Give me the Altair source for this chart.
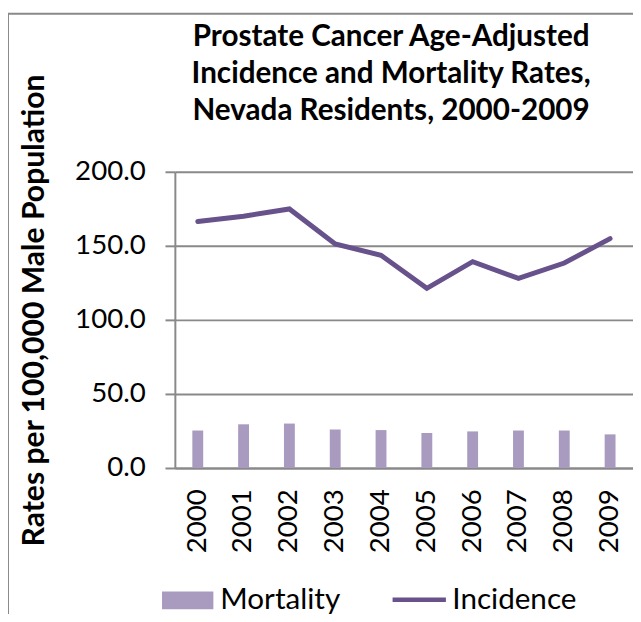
import altair as alt
import pandas as pd

years = ["2000", "2001", "2002", "2003", "2004", "2005", "2006", "2007", "2008", "2009"]
mortality = [25.3, 29.5, 30.0, 26.0, 25.6, 23.6, 24.7, 25.3, 25.3, 22.7]
incidence = [166.4, 170.0, 174.9, 151.3, 143.6, 121.3, 139.3, 128.0, 138.4, 154.9]
y_ticks = [0, 50, 100, 150, 200]

df = pd.DataFrame({
    "Year": years,
    "Mortality": mortality,
    "Incidence": incidence,
    "MLabel": ["Mortality"] * len(years),
    "ILabel": ["Incidence"] * len(years),
})

FONT = "Lato"
BAR_COLOR = "#A99BBF"
LINE_COLOR = "#67528C"
GRID = "#898989"

x_enc = alt.X(
    "Year:O",
    sort=years,
    scale=alt.Scale(paddingInner=0, paddingOuter=0),
    axis=alt.Axis(
        title=None, labelAngle=-90, labelFontSize=28, labelFont=FONT, labelColor="#000",
        labelPadding=21, ticks=False, domain=True, domainColor=GRID, domainWidth=2, grid=False,
        labelAlign="right", labelBaseline="middle",
    ),
)

y_axis = alt.Axis(
    values=y_ticks, format=".1f", labelFontSize=28, labelFont=FONT, labelColor="#000",
    tickSize=10, tickColor=GRID, tickWidth=2, labelPadding=20,
    domainColor=GRID, domainWidth=2, gridColor=GRID, gridWidth=2,
    title="Rates per 100,000 Male Population", titleFont=FONT, titleFontSize=30.5,
    titleFontWeight="bold", titleColor="#000", titleAngle=-90, titleBaseline="middle",
    titleAlign="center", titleX=-142, titleY=140,
)

bars = alt.Chart(df).mark_bar(size=11, color=BAR_COLOR).encode(
    x=x_enc,
    y=alt.Y("Mortality:Q", scale=alt.Scale(domain=[0, 200], nice=False), axis=y_axis),
    fill=alt.Fill(
        "MLabel:N", scale=alt.Scale(domain=["Mortality"], range=[BAR_COLOR]),
        legend=alt.Legend(
            title=None, orient="none", legendX=-13, legendY=408,
            symbolType="M-1,-0.346H1V0.346H-1Z", symbolSize=2704, symbolStrokeWidth=0,
            labelFontSize=30, labelFont=FONT, labelColor="#000", labelOffset=7, padding=0,
        ),
    ),
)

line = alt.Chart(df).mark_line(strokeWidth=5, color=LINE_COLOR, strokeCap="round", strokeJoin="miter").encode(
    x=x_enc,
    y=alt.Y("Incidence:Q"),
    stroke=alt.Stroke(
        "ILabel:N", scale=alt.Scale(domain=["Incidence"], range=[LINE_COLOR]),
        legend=alt.Legend(
            title=None, orient="none", legendX=218, legendY=404,
            symbolType="stroke", symbolSize=2916, symbolStrokeWidth=4.5,
            labelFontSize=30, labelFont=FONT, labelColor="#000", labelOffset=4, padding=0,
        ),
    ),
)

frame = alt.Chart(df).mark_rect(fill=None, stroke=GRID, strokeWidth=2).encode(
    x=alt.value(-169), x2=alt.value(474), y=alt.value(-160), y2=alt.value(462)
).transform_filter(alt.datum.Year == "2000")

chart = alt.layer(frame, bars, line).properties(
    width=464,
    height=300,
    padding={"left": 169, "top": 162, "right": 0, "bottom": 144},
    autosize=alt.AutoSizeParams(type="none"),
    title=alt.TitleParams(
        text=["Prostate Cancer Age-Adjusted", "Incidence and Mortality Rates,", "Nevada Residents, 2000-2009"],
        font=FONT, fontSize=30, fontWeight="bold", color="#000", anchor="middle",
        dx=-13, offset=-115, lineHeight=37.5,
    ),
).configure_view(stroke=None).resolve_scale(fill="independent", stroke="independent")

chart.save("out.html", embed_options={"renderer": "svg", "actions": False})
